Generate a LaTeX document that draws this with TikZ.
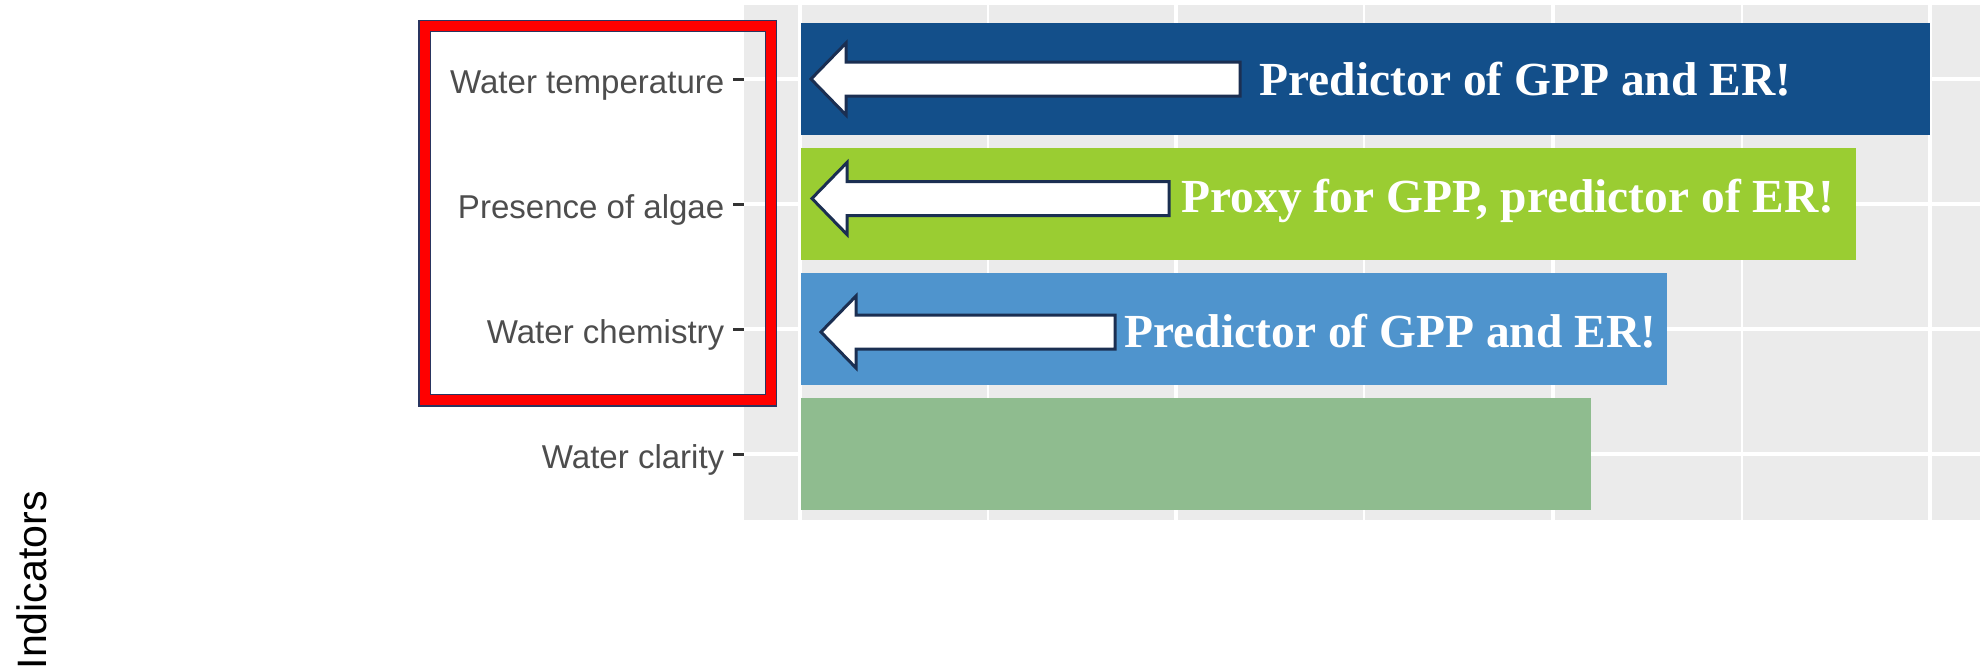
\documentclass[tikz,border=0pt]{standalone}
\usepackage{fontspec}
\setmainfont{Liberation Sans}
\newfontfamily\notefont{Liberation Serif}

\definecolor{panelgrey}{HTML}{EBEBEB}
\definecolor{tempblue}{HTML}{134F8A}
\definecolor{algaegreen}{HTML}{9ACD32}
\definecolor{chemblue}{HTML}{4F94CD}
\definecolor{claritygreen}{HTML}{8FBC8F}
\definecolor{labelgrey}{HTML}{4D4D4D}
\definecolor{tickgrey}{HTML}{333333}
\definecolor{arrowedge}{HTML}{1B2F52}
\definecolor{boxedge}{HTML}{2A3560}

\def\firstRow{79}
\def\rowGap{125}

\tikzset{
    notearrow/.style={fill=white,draw=arrowedge,line width=0.3mm,line join=miter},
    note/.style={font=\notefont\bfseries\fontsize{13.5}{16}\selectfont,text=white,anchor=base west,inner sep=0pt},
    ticklabel/.style={font=\fontsize{9.4}{11}\selectfont,text=labelgrey,anchor=base east,inner sep=0pt},
    hlbox/.style={draw=boxedge,double=red,double distance=1mm,line width=0.12mm}
}

\begin{document}
\begin{tikzpicture}[x=0.1mm,y=-0.1mm]
            \useasboundingbox (0,0) rectangle (1980,672);
            \fill [panelgrey] (744,5) rectangle (1980,520);

            \begin{scope}[white]
                \foreach \gx in {987.5,1364,1742}{%
                        \draw [line width=0.2mm] (\gx,5) -- (\gx,520);
                    }
                \foreach \gx in {800,1176,1553,1930}{%
                        \draw [line width=0.35mm] (\gx,5) -- (\gx,520);
                    }
                \foreach \n in {0,...,3}{%
                        \draw [line width=0.35mm] (744,\firstRow+\n*\rowGap) -- (1980,\firstRow+\n*\rowGap);
                    }
            \end{scope}

            \foreach \len/\col [count=\n from 0] in {1930/tempblue,1856/algaegreen,1667/chemblue,1591/claritygreen}{%
                    \fill [\col] (800.6,\firstRow+\n*\rowGap-56) rectangle (\len,\firstRow+\n*\rowGap+56);
                }

            \foreach \lab [count=\n from 0] in {Water temperature,Presence of algae,Water chemistry,Water clarity}{%
                    \draw [tickgrey,line width=0.3mm] (733,\firstRow+\n*\rowGap) -- (744,\firstRow+\n*\rowGap);
                    \node [ticklabel] (label\n) at (725,\firstRow+\n*\rowGap+14) {\lab};
                }

            \node [font=\fontsize{11.7}{14}\selectfont,rotate=90,anchor=base west,inner sep=0pt] (axistitle) at (46,670) {Indicators};

            \draw [hlbox] (424.5,26.2) rectangle (771.2,400.3);

            \foreach \tip/\y/\tail in {811/79/1240,812/198.5/1169,821/332/1115}{%
                    \draw [notearrow] (\tip,\y) -- (\tip+35,\y-36) -- (\tip+35,\y-17) -- (\tail,\y-17)
                        -- (\tail,\y+17) -- (\tip+35,\y+17) -- (\tip+35,\y+36) -- cycle;
                }

            \node [note] (tempnote) at (1259,95) {Predictor of GPP and ER!};
            \node [note] (algaenote) at (1181,212) {Proxy for GPP, predictor of ER!};
            \node [note] (chemnote) at (1124,347) {Predictor of GPP and ER!};
        \end{tikzpicture}
\end{document}
